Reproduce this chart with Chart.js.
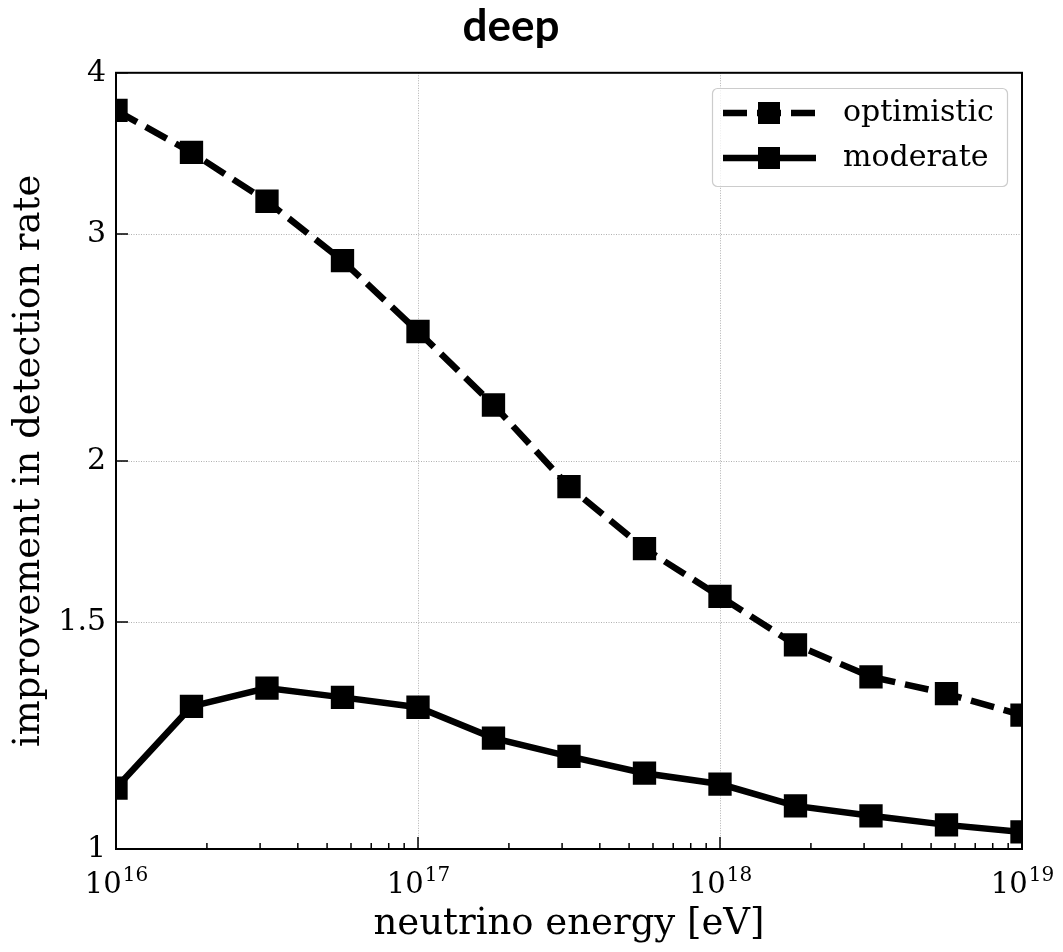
<!DOCTYPE html>
<html>
<head>
<meta charset="utf-8">
<script src="https://cdn.jsdelivr.net/npm/chart.js@4.4.0/dist/chart.umd.min.js"></script>
<style>
  html, body { margin: 0; padding: 0; background: #fff; }
</style>
</head>
<body>
<canvas id="chart" width="1063" height="952"></canvas>
<script>
// ============================================
// Values
// ============================================
const energies = [1e16, 1.778e16, 3.162e16, 5.623e16, 1e17, 1.778e17, 3.162e17, 5.623e17, 1e18, 1.778e18, 3.162e18, 5.623e18, 1e19];
const optimistic = [3.74, 3.47, 3.18, 2.86, 2.52, 2.21, 1.91, 1.71, 1.57, 1.44, 1.36, 1.32, 1.27];
const moderate = [1.115, 1.29, 1.333, 1.311, 1.288, 1.219, 1.18, 1.145, 1.123, 1.08, 1.061, 1.044, 1.031];

const xTicks = [1e16, 1e17, 1e18, 1e19];
const xTickExp = ['16', '17', '18', '19'];
const yTicks = [1, 1.5, 2, 3, 4];
const gridX = [1e17, 1e18];
const gridY = [1.5, 2, 3];

const SERIF = "'DejaVu Serif', serif";
const LINE_W = 6.5;
const DASH = [24, 10];

/**
 * Draws the matplotlib-style frame, dotted grid, inward ticks,
 * power-of-ten labels and the legend box
 */
const mplAxes = {
  id: 'mplAxes',
  beforeDatasetsDraw(chart) {
    const { ctx, chartArea: a, scales: { x, y } } = chart;
    ctx.save();
    ctx.strokeStyle = '#b0b0b0';
    ctx.lineWidth = 1;
    ctx.setLineDash([1, 1.5]);
    gridX.forEach((v) => {
      const px = Math.round(x.getPixelForValue(v)) + 0.5;
      ctx.beginPath();
      ctx.moveTo(px, a.top);
      ctx.lineTo(px, a.bottom);
      ctx.stroke();
    });
    gridY.forEach((v) => {
      const py = Math.round(y.getPixelForValue(v)) + 0.5;
      ctx.beginPath();
      ctx.moveTo(a.left, py);
      ctx.lineTo(a.right, py);
      ctx.stroke();
    });
    ctx.restore();
  },
  afterDatasetsDraw(chart) {
    const { ctx, chartArea: a, scales: { x, y } } = chart;
    ctx.save();

    // frame
    ctx.strokeStyle = '#000';
    ctx.lineWidth = 2;
    ctx.strokeRect(a.left, a.top, a.right - a.left, a.bottom - a.top);

    // inward ticks: major + minor on x, major on y
    ctx.lineWidth = 1.5;
    ctx.beginPath();
    xTicks.forEach((v) => {
      const px = x.getPixelForValue(v);
      ctx.moveTo(px, a.bottom);
      ctx.lineTo(px, a.bottom - 12);
    });
    for (let d = 16; d < 19; d++) {
      for (let m = 2; m <= 9; m++) {
        const px = x.getPixelForValue(m * Math.pow(10, d));
        ctx.moveTo(px, a.bottom);
        ctx.lineTo(px, a.bottom - 6);
      }
    }
    yTicks.forEach((v) => {
      const py = y.getPixelForValue(v);
      ctx.moveTo(a.left, py);
      ctx.lineTo(a.left + 12, py);
    });
    ctx.stroke();

    // x tick labels as 10^n
    ctx.fillStyle = '#000';
    ctx.textBaseline = 'alphabetic';
    ctx.textAlign = 'left';
    xTicks.forEach((v, i) => {
      const px = x.getPixelForValue(v);
      ctx.font = `29px ${SERIF}`;
      const wBase = ctx.measureText('10').width;
      ctx.font = `20px ${SERIF}`;
      const wExp = ctx.measureText(xTickExp[i]).width;
      const x0 = px - (wBase + wExp) / 2;
      ctx.font = `29px ${SERIF}`;
      ctx.fillText('10', x0, a.bottom + 44);
      ctx.font = `20px ${SERIF}`;
      ctx.fillText(xTickExp[i], x0 + wBase + 1, a.bottom + 32);
    });

    // legend
    const lx = 712, ly = 88, lw = 295, lh = 98;
    ctx.fillStyle = 'rgba(255,255,255,0.8)';
    ctx.strokeStyle = '#cccccc';
    ctx.lineWidth = 1.2;
    ctx.beginPath();
    ctx.roundRect(lx + 0.5, ly + 0.5, lw, lh, 5);
    ctx.fill();
    ctx.stroke();

    chart.data.datasets.forEach((ds, i) => {
      const ry = 113 + i * 45;
      ctx.strokeStyle = '#000';
      ctx.lineWidth = ds.borderWidth;
      ctx.setLineDash(ds.borderDash || []);
      ctx.beginPath();
      ctx.moveTo(723, ry);
      ctx.lineTo(816, ry);
      ctx.stroke();
      ctx.setLineDash([]);
      ctx.fillStyle = '#000';
      ctx.fillRect(758, ry - 11, 22, 22);
      ctx.font = `30px ${SERIF}`;
      ctx.textBaseline = 'middle';
      ctx.fillText(ds.label, 843, ry);
    });

    ctx.restore();
  },
};

const ctx = document.getElementById('chart').getContext('2d');

new Chart(ctx, {
  type: 'line',
  data: {
    datasets: [
      {
        label: 'optimistic',
        data: energies.map((e, i) => ({ x: e, y: optimistic[i] })),
        borderColor: '#000',
        borderWidth: LINE_W,
        borderDash: DASH,
        pointStyle: 'rect',
        pointRadius: 16.5,
        pointHoverRadius: 16.5,
        pointBackgroundColor: '#000',
        pointBorderWidth: 0,
        tension: 0,
        clip: 0,
      },
      {
        label: 'moderate',
        data: energies.map((e, i) => ({ x: e, y: moderate[i] })),
        borderColor: '#000',
        borderWidth: LINE_W,
        pointStyle: 'rect',
        pointRadius: 16.5,
        pointHoverRadius: 16.5,
        pointBackgroundColor: '#000',
        pointBorderWidth: 0,
        tension: 0,
        clip: 0,
      },
    ],
  },
  options: {
    responsive: false,
    animation: false,
    events: [],
    layout: {
      padding: { top: 0, left: 0, right: 41, bottom: 0 },
    },
    plugins: {
      legend: { display: false },
      tooltip: { enabled: false },
      title: {
        display: true,
        text: 'deep',
        color: '#000',
        font: { family: 'Lato', size: 44, weight: 'bold', lineHeight: 1.2 },
        padding: { top: 0, bottom: 20 },
      },
    },
    scales: {
      x: {
        type: 'logarithmic',
        min: 1e16,
        max: 1e19,
        afterBuildTicks: (scale) => {
          scale.ticks = xTicks.map((v) => ({ value: v }));
        },
        afterFit: (scale) => {
          scale.height = 103;
        },
        grid: { display: false },
        border: { display: false },
        ticks: { display: false },
        title: {
          display: true,
          text: 'neutrino energy [eV]',
          color: '#000',
          font: { family: SERIF, size: 37 },
          padding: { top: 0, bottom: 5 },
        },
      },
      y: {
        type: 'logarithmic',
        min: 1,
        max: 4,
        afterBuildTicks: (scale) => {
          scale.ticks = yTicks.map((v) => ({ value: v }));
        },
        afterFit: (scale) => {
          scale.width = 116;
        },
        grid: { display: false, drawTicks: false },
        border: { display: false },
        ticks: {
          color: '#000',
          padding: 10,
          font: { family: SERIF, size: 30 },
          callback: (v) => String(v),
        },
        title: {
          display: true,
          text: 'improvement in detection rate',
          color: '#000',
          font: { family: SERIF, size: 37 },
          padding: { top: 7, bottom: 0 },
        },
      },
    },
  },
  plugins: [mplAxes],
});
</script>
</body>
</html>
